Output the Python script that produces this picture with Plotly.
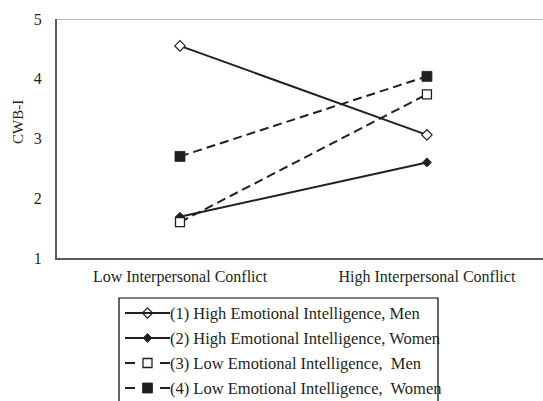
import plotly.graph_objects as go

categories = ["Low Interpersonal Conflict", "High Interpersonal Conflict"]
series_names = [
    "(1) High Emotional Intelligence, Men",
    "(2) High Emotional Intelligence, Women",
    "(3) Low Emotional Intelligence,&nbsp; Men",
    "(4) Low Emotional Intelligence,&nbsp; Women",
]
s1_values = [4.55, 3.06]
s2_values = [1.69, 2.60]
s3_values = [1.60, 3.74]
s4_values = [2.70, 4.04]
y_ticks = [1, 2, 3, 4, 5]
y_title = "CWB-I"

W, H = 543, 401
INK = "#231f20"
FONT = "Liberation Serif, Times New Roman, serif"

styles = [
    dict(dash="solid", symbol="diamond", size=8, fill="white", lw=1.2),
    dict(dash="solid", symbol="diamond", size=7, fill=INK, lw=0.8),
    dict(dash="9px,5px", symbol="square", size=9, fill="white", lw=1.3),
    dict(dash="9px,5px", symbol="square", size=10, fill=INK, lw=0.8),
]
all_values = [s1_values, s2_values, s3_values, s4_values]

# plot area in pixels
PL, PR, PT, PB = 57, 543, 19, 258

fig = go.Figure()
for name, vals, st in zip(series_names, all_values, styles):
    fig.add_trace(go.Scatter(
        x=categories, y=vals, mode="lines+markers", name=name,
        line=dict(color=INK, width=2, dash=st["dash"]),
        marker=dict(symbol=st["symbol"], size=st["size"], color=st["fill"],
                    line=dict(color=INK, width=st["lw"])),
        showlegend=False, cliponaxis=False,
    ))

# manual legend on pixel overlay axes
LX0, LX1, LY0 = 119, 438, 298
row_y = [313, 338, 363, 388]
shapes = [
    dict(type="rect", xref="x2", yref="y2", x0=LX0, x1=LX1, y0=LY0, y1=H + 10,
         line=dict(color="black", width=1.2), fillcolor="rgba(0,0,0,0)", layer="below"),
    dict(type="line", xref="x", yref="y", x0=-0.6, x1=1.6, y0=5, y1=5,
         line=dict(color="#a0a0a0", width=1.5), layer="below"),
]
annotations = []
for name, st, yy in zip(series_names, styles, row_y):
    shapes.append(dict(type="line", xref="x2", yref="y2", x0=125, x1=170, y0=yy, y1=yy,
                       line=dict(color=INK, width=2,
                                 dash="solid" if st["dash"] == "solid" else "10px,25px")))
    fig.add_trace(go.Scatter(
        x=[147.5], y=[yy], xaxis="x2", yaxis="y2", mode="markers", showlegend=False,
        marker=dict(symbol=st["symbol"], size=st["size"], color=st["fill"],
                    line=dict(color=INK, width=st["lw"])), hoverinfo="skip"))
    annotations.append(dict(xref="x2", yref="y2", x=169, y=yy, text=name, showarrow=False,
                            xanchor="left", yanchor="middle", borderpad=0,
                            font=dict(family=FONT, size=16.5, color=INK)))

annotations.append(dict(xref="x2", yref="y2", x=18, y=122, text=y_title, textangle=-90,
                        showarrow=False, xanchor="center", yanchor="middle",
                        font=dict(family=FONT, size=15, color=INK)))

fig.update_layout(
    width=W, height=H,
    margin=dict(l=0, r=0, t=0, b=0, autoexpand=False),
    paper_bgcolor="white", plot_bgcolor="rgba(0,0,0,0)",
    font=dict(family=FONT, size=16, color=INK),
    xaxis=dict(domain=[PL / W, PR / W], type="category", categoryorder="array",
               categoryarray=categories, range=[-0.498, 1.47],
               showgrid=False, zeroline=False, showline=True, linecolor="#5a5a5a",
               linewidth=2, ticks="", ticklabelstandoff=3, automargin=False,
               tickfont=dict(family=FONT, size=16, color=INK)),
    yaxis=dict(domain=[(H - PB) / H, (H - PT) / H], range=[1, 5], tickvals=y_ticks,
               showgrid=False, zeroline=False, showline=True, linecolor="#5a5a5a",
               linewidth=2, ticks="", ticklabelstandoff=10, automargin=False,
               tickfont=dict(family=FONT, size=16, color=INK)),
    xaxis2=dict(domain=[0, 1], range=[0, W], visible=False, anchor="y2", automargin=False),
    yaxis2=dict(domain=[0, 1], range=[H, 0], visible=False, anchor="x2", automargin=False),
    shapes=shapes, annotations=annotations,
)

fig.write_html("out.html", config={"displayModeBar": False},
               post_script="document.body.style.margin='0';")
